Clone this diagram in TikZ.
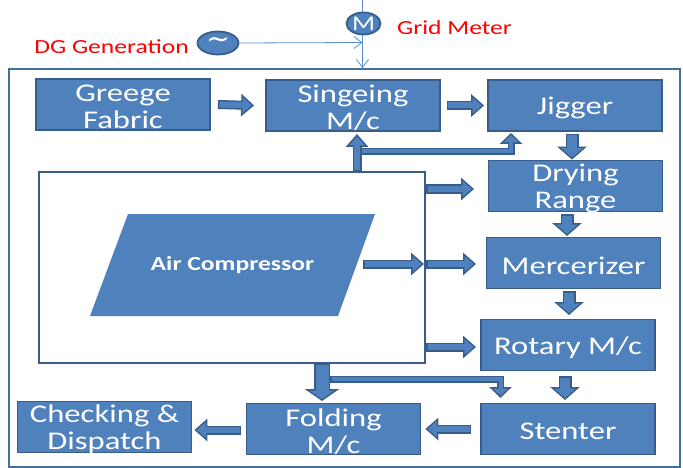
\documentclass[tikz,border=0pt]{standalone}
\usepackage{fontspec}
\setmainfont[FakeStretch=1.28]{Carlito}
\newfontfamily\symfont{DejaVu Sans}
\newcommand\dn[1]{\raisebox{-2.5pt}[\height][\depth]{#1}}
\usetikzlibrary{arrows.meta,shapes.geometric}
\definecolor{mid}{HTML}{4F81BD}
\definecolor{dark}{HTML}{385D8A}
\definecolor{frameblue}{HTML}{41719C}
\definecolor{wire}{HTML}{5B8FD0}
\tikzset{
  x=1pt,y=-1pt,
  box/.style={draw=dark,fill=mid,line width=1.8pt,text=white,align=center,inner sep=0pt,
    minimum width=174pt,minimum height=51pt,font=\fontsize{25.5}{27}\selectfont},
  lbl/.style={text=red,inner sep=0pt,font=\fontsize{20}{22}\selectfont},
  wirearrow/.style={draw=wire,line width=0.8pt,-{Straight Barb[length=8pt,width=12pt]}},
  blk/.style n args={8}{draw=mid,line width=#4pt,shorten >=#7pt,shorten <=1.5pt,
    -{Triangle[length=#6pt,width=#5pt]},
    preaction={draw=dark,line width=#1pt,shorten >=0pt,shorten <=0pt,
      -{Triangle[length=#3pt,width=#2pt]}}},
  blkS/.style={blk={9}{22}{13}{6}{15.5}{9.2}{2.3}{}},
  blkM/.style={blk={13}{29}{13}{10}{21.5}{9.5}{2}{}},
  blkD/.style={blk={16}{34}{12}{13}{24.6}{8.7}{1.8}{}},
  blkT/.style={blk={7}{22}{11}{4}{15}{7.4}{2.1}{}},
}
\begin{document}
\begin{tikzpicture}
\useasboundingbox (0,0) rectangle (683,468);
\node[draw=frameblue,line width=1.8pt,minimum width=671pt,minimum height=398pt,inner sep=0pt] (frame) at (344.5,268) {};
\node[draw=dark,fill=white,line width=1.8pt,minimum width=386pt,minimum height=191pt,inner sep=0pt] (white) at (232,267.5) {};
\fill[mid] (128,214) -- (375,214) -- (338,316) -- (90,316) -- cycle;
\node[text=white,inner sep=0pt,font=\fontsize{20}{22}\selectfont\bfseries] (air) at (232.5,265) {Air Compressor};
\node[box] (greege) at (123,104.5) {\dn{Greege}\\\dn{Fabric}};
\node[box] (singe) at (353,105.5) {\dn{Singeing}\\\dn{M/c}};
\node[box] (jigger) at (575,105.5) {\dn{Jigger}};
\node[box] (dry) at (575.5,186) {\dn{Drying}\\\dn{Range}};
\node[box] (merc) at (573.5,263) {\dn{Mercerizer}};
\node[box] (rotary) at (568,345) {\dn{Rotary M/c}};
\node[box] (stenter) at (568,429) {\dn{Stenter}};
\node[box] (fold) at (333.5,429) {\dn{Folding}\\\dn{M/c}};
\node[box] (check) at (104.5,427) {\dn{Checking \&}\\\dn{Dispatch}};
% grid
\node[draw=dark,fill=mid,line width=1.8pt,ellipse,minimum width=34pt,minimum height=22pt,inner sep=0pt,text=white,
  font=\fontsize{21}{21}\selectfont] (meter) at (363.5,23.5) {M};
\node[draw=dark,fill=mid,line width=1.8pt,ellipse,minimum width=41pt,minimum height=23pt,inner sep=0pt,text=white,
  font=\fontsize{28}{28}\selectfont\symfont] (dg) at (218,43) {\char"7E};
\node[lbl,anchor=east] (dglbl) at (189,47) {DG Generation};
\node[lbl,anchor=west] (gridlbl) at (397,27.5) {Grid Meter};
\coordinate (gridtop) at (362.5,0);
\coordinate (bus) at (362.5,42.5);
\draw[draw=wire,line width=0.8pt] (gridtop) -- (meter.north -| gridtop);
\draw[wirearrow] (meter.south -| gridtop) -- (gridtop |- frame.north);
\draw[wirearrow] (dg.east) -- (bus);
% process arrows
\draw[blkS] ([xshift=7]greege.east) -- ([xshift=-11]singe.west);
\draw[blkS] ([xshift=6]singe.east) -- ([xshift=-3]jigger.west);
\coordinate (upbase) at (357,172);
\coordinate (upknee) at (357,151.5);
\coordinate (upbend) at (511,151.5);
\draw[blkT] (upknee) -- (upbend) -- (511,133);
\draw[blkS] (upbase) -- (357,134);
\draw[blkM] (572,134) -- ([xshift=-3.5]dry.north);
\draw[blkM] (567,214) -- (567,236);
\draw[blkM] (569,291) -- (569,315);
\draw[blkM] (565,376) -- (565,400);
\coordinate (wdry) at (426,189);
\coordinate (wmerc) at (426,264);
\coordinate (wrot) at (426,347);
\draw[blkS] (wdry) -- (474,189);
\draw[blkS] (363,264) -- (424,264);
\draw[blkS] (wmerc) -- (476,264);
\draw[blkS] (wrot) -- (476,347);
\coordinate (dnknee) at (330,379);
\coordinate (dnbend) at (500.5,379);
\draw[blkT] (dnknee) -- (dnbend) -- (500.5,398);
\draw[blkD] (322,363) -- (322,401);
\draw[blkS] ([xshift=-9]stenter.west) -- ([xshift=4]fold.east);
\draw[blkS] ([xshift=-4.5,yshift=-1]fold.west) -- ([xshift=2,yshift=-3]check.east);
\end{tikzpicture}
\end{document}
